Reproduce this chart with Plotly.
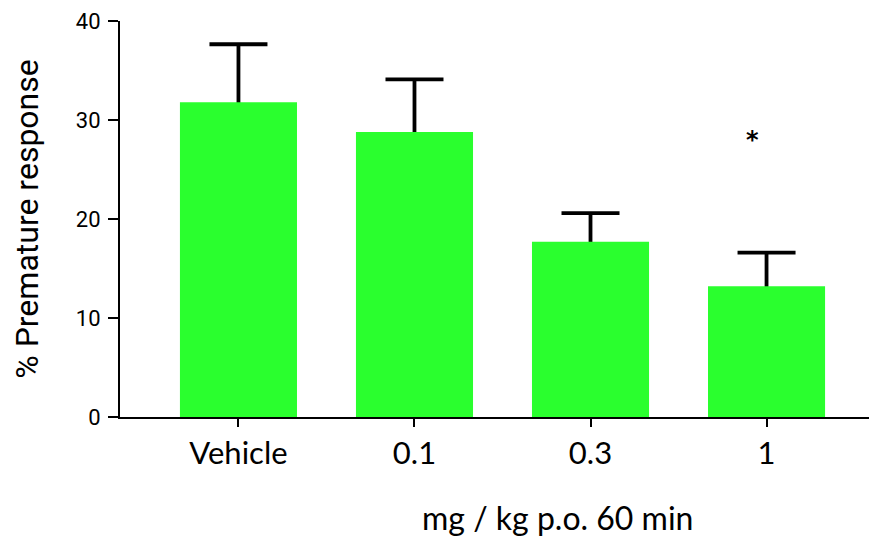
import plotly.graph_objects as go

categories = ["Vehicle", "0.1", "0.3", "1"]
means = [31.8, 28.8, 17.7, 13.2]
sem = [5.85, 5.3, 2.9, 3.4]
y_ticks = [0, 10, 20, 30, 40]
sig_label = "*"
sig_category = "1"
sig_level = 28.4
x_title = "mg / kg p.o. 60 min"
y_title = "% Premature response"

GREEN = "#2AFF2E"

fig = go.Figure()
# error bars drawn first, then covered at the bottom by the green bars
fig.add_trace(go.Bar(
    x=categories, y=means, width=0.665,
    marker=dict(color="rgba(0,0,0,0)", line=dict(width=0)),
    error_y=dict(type="data", array=sem, symmetric=True,
                 color="black", thickness=3.8, width=29),
    hoverinfo="skip", showlegend=False,
))
fig.add_trace(go.Bar(
    x=categories, y=means, width=0.665,
    marker=dict(color=GREEN, line=dict(width=0)),
    showlegend=False,
))

fig.add_annotation(
    x=categories.index(sig_category), y=sig_level, text="<b>" + sig_label + "</b>",
    showarrow=False, xref="x", yref="y",
    xshift=-14, yshift=-4,
    font=dict(family="DejaVu Sans", size=24, color="black"),
)

# x-axis title (offset to the right of the plot centre, as in the original)
fig.add_annotation(
    x=0.5725, y=0, xref="paper", yref="paper",
    xanchor="center", yanchor="middle", yshift=-100,
    text=x_title, showarrow=False,
    font=dict(family="Lato", size=32, color="black"),
)

fig.update_layout(
    barmode="overlay",
    width=877, height=538,
    margin=dict(l=112, r=0, t=13, b=129, pad=0),
    plot_bgcolor="white", paper_bgcolor="white",
    xaxis=dict(
        range=[-0.673, 3.673],
        showline=True, linecolor="black", linewidth=2,
        ticks="outside", ticklen=8, tickwidth=2, tickcolor="black",
        tickfont=dict(family="Lato", size=31, color="black"),
        showgrid=False, zeroline=False,
    ),
    yaxis=dict(
        range=[0, 40],
        tickvals=y_ticks,
        showline=True, linecolor="black", linewidth=2,
        ticks="outside", ticklen=10, tickwidth=2, tickcolor="black",
        ticklabelstandoff=3,
        tickfont=dict(family="Roboto", size=22, color="black"),
        showgrid=False, zeroline=False,
        title=dict(text=y_title,
                   font=dict(family="Roboto", size=32, color="black"),
                   standoff=36),
    ),
)

fig.write_html("out.html")
